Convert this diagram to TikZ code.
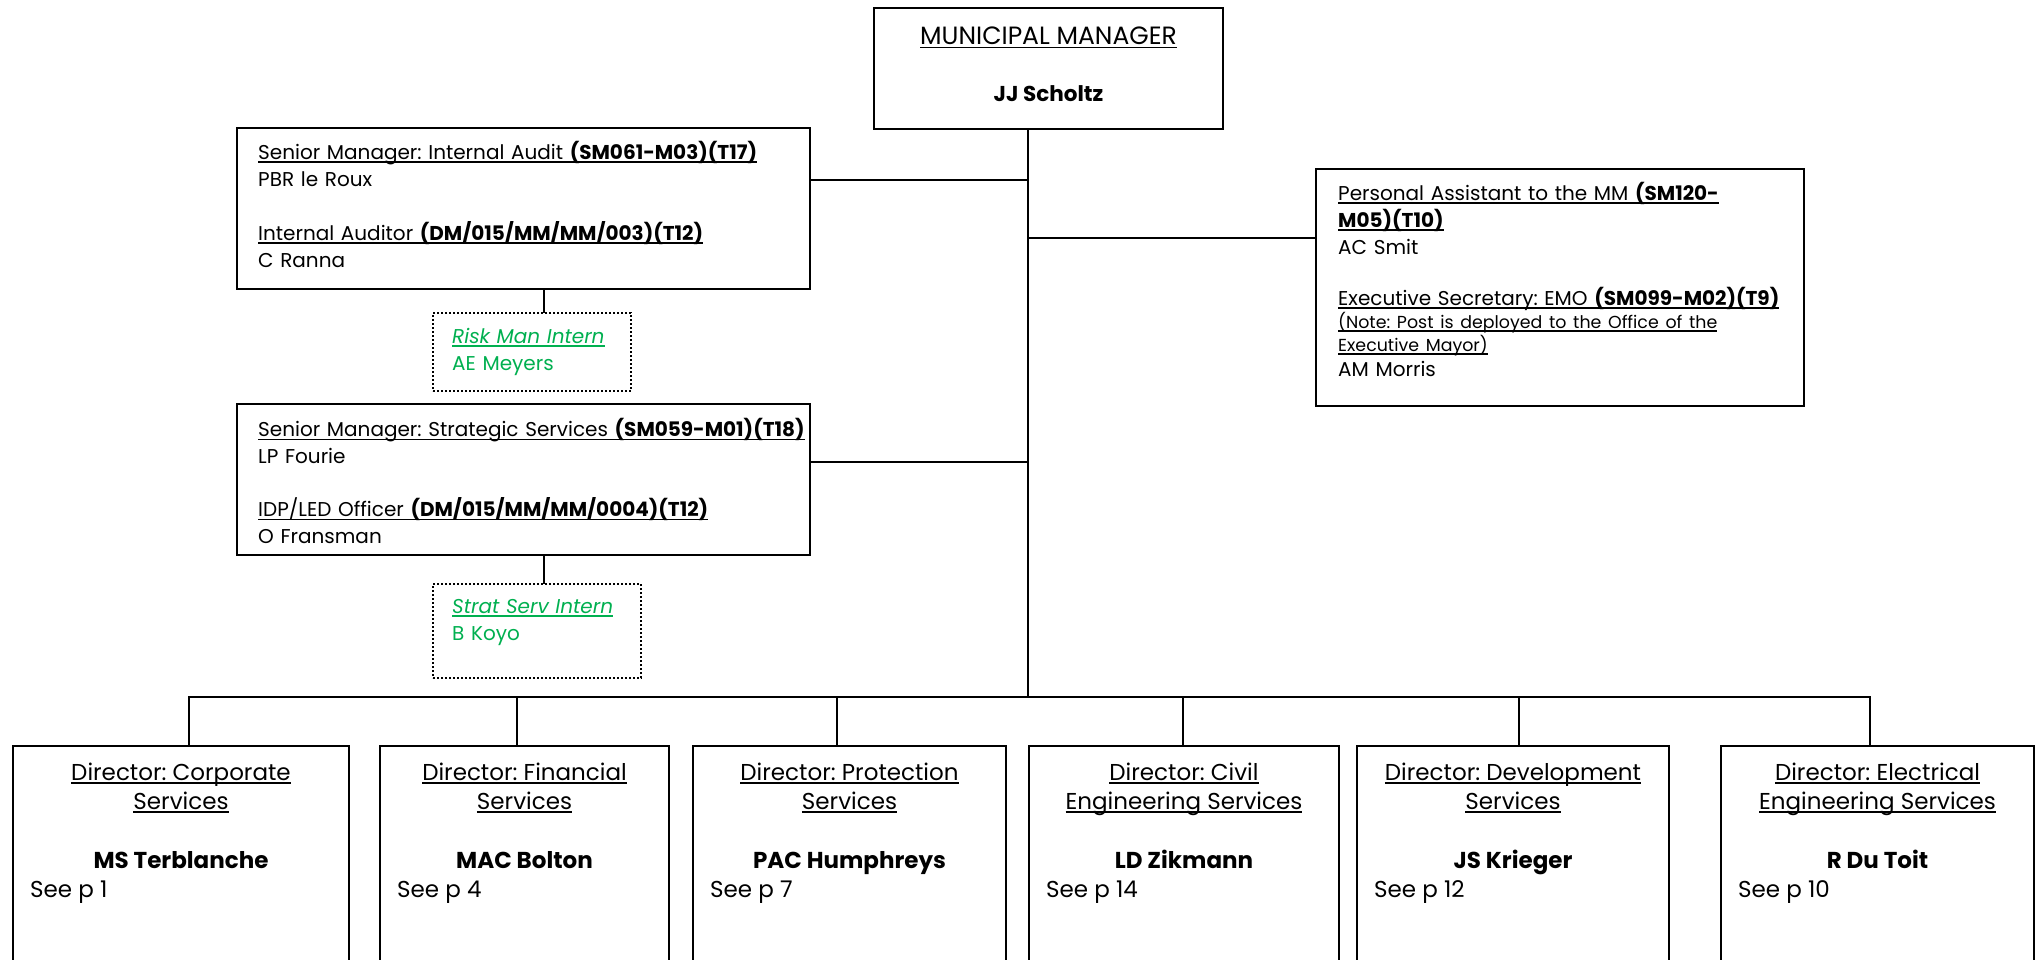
\documentclass[tikz,border=0pt]{standalone}
\usepackage{fontspec}
\setmainfont{Poppins}
\setlength{\parindent}{0pt}
\frenchspacing
\definecolor{interngreen}{HTML}{00B050}
% underline that ignores descenders
\newcommand{\uln}[1]{\leavevmode\setbox0=\hbox{#1}\rlap{\rule[-3.5pt]{\wd0}{1.5pt}}\box0}

\tikzset{
  box/.style={draw, line width=2pt, inner sep=0pt, anchor=north west},
  internbox/.style={draw, line width=2pt, dash pattern=on 2pt off 2pt, inner sep=0pt, anchor=north west},
  conn/.style={line width=2pt, line cap=rect},
  txt/.style={anchor=north west, inner sep=0pt, align=left, text width=#1, font=\fontsize{20}{27}\selectfont},
  txt/.default=600pt,
  dtext/.style={inner sep=0pt, font=\fontsize{23}{29}\selectfont},
}

\begin{document}
\begin{tikzpicture}[x=1pt, y=-1pt]
\fill[white] (0,0) rectangle (2040,960);
\clip (0,0) rectangle (2040,960);
% top
\node[box, minimum width=349pt, minimum height=121pt] (mm) at (873,7) {};
\node[anchor=base, inner sep=0pt, font=\fontsize{25}{30}\selectfont] (mmtitle) at ([yshift=-38pt]mm.north) {\uln{MUNICIPAL MANAGER}};
\node[anchor=base, inner sep=0pt, font=\fontsize{21.5}{26}\selectfont] (mmname) at ([yshift=-95pt]mm.north) {\textbf{JJ Scholtz}};

% left side
\node[box, minimum width=573pt, minimum height=161pt] (ia) at (236,127) {};
\node[txt] (iatext) at ([xshift=22pt, yshift=-13.1pt]ia.north west) {\strut\uln{Senior Manager: Internal Audit \textbf{(SM061-M03)(T17)}}\\
PBR le Roux\\[27pt]
\uln{Internal Auditor \textbf{(DM/015/MM/MM/003)(T12)}}\\
C Ranna};

\node[internbox, minimum width=198pt, minimum height=78pt] (risk) at (432,312) {};
\node[txt=200pt, text=interngreen] (risktext) at ([xshift=20pt, yshift=-12.1pt]risk.north west) {\strut\uln{\textit{Risk Man Intern}}\\
AE Meyers};

\node[box, minimum width=573pt, minimum height=151pt] (ss) at (236,403) {};
\node[txt] (sstext) at ([xshift=22pt, yshift=-14.6pt]ss.north west) {\strut\uln{Senior Manager: Strategic Services \textbf{(SM059-M01)(T18)}}\\
LP Fourie\\[26pt]
\uln{IDP/LED Officer \textbf{(DM/015/MM/MM/0004)(T12)}}\\
O Fransman};

\node[internbox, minimum width=208pt, minimum height=94pt] (strat) at (432,583) {};
\node[txt=200pt, text=interngreen] (strattext) at ([xshift=20pt, yshift=-11.1pt]strat.north west) {\strut\uln{\textit{Strat Serv Intern}}\\
B Koyo};

% right side
\node[box, minimum width=488pt, minimum height=237pt] (pa) at (1315,168) {};
\node[txt] (patext) at ([xshift=23pt, yshift=-13.1pt]pa.north west) {\strut\uln{Personal Assistant to the MM \textbf{(SM120-}}\\
\uln{\textbf{M05)(T10)}}\\
AC Smit\\[24pt]
\uln{Executive Secretary: EMO \textbf{(SM099-M02)(T9)}}\par
{\fontsize{17.4}{23}\selectfont\uln{(Note: Post is deployed to the Office of the}\\
\uln{Executive Mayor)}\par}
\vspace{-2pt}AM Morris};

% connectors
\coordinate (bus) at (1028,697);
\coordinate (jia) at (1028,180);
\coordinate (jpa) at (1028,238);
\coordinate (jss) at (1028,462);
\draw[conn] (mm.south -| bus) -- (bus);
\draw[conn] (jia) -- (jia -| ia.east);
\draw[conn] (jpa) -- (jpa -| pa.west);
\draw[conn] (jss) -- (jss -| ss.east);
\coordinate (iad) at ([xshift=20.5pt]ia.south);
\coordinate (ssd) at ([xshift=20.5pt]ss.south);
\draw[conn] (iad) -- (iad |- risk.north);
\draw[conn] (ssd) -- (ssd |- strat.north);

% directors
\foreach \n/\l/\w/\off/\ta/\tb/\who/\pg in {
  1/12/336/8/{Director: Corporate}/Services/MS Terblanche/1,
  2/379/289/-7.5/{Director: Financial}/Services/MAC Bolton/4,
  3/692/313/-12.5/{Director: Protection}/Services/PAC Humphreys/7,
  4/1028/310/-1/{Director: Civil}/{Engineering Services}/LD Zikmann/14,
  5/1356/312/6/{Director: Development}/Services/JS Krieger/12,
  6/1720/313/-7.5/{Director: Electrical}/{Engineering Services}/R Du Toit/10}
{
  \node[box, minimum width=\w pt, minimum height=260pt] (d\n) at (\l,745) {};
  \node[dtext, anchor=base] (da\n) at ([yshift=-35pt]d\n.north) {\uln{\ta}};
  \node[dtext, anchor=base] (db\n) at ([yshift=-64pt]d\n.north) {\uln{\tb}};
  \node[dtext, anchor=base] (dn\n) at ([yshift=-123pt]d\n.north) {\textbf{\who}};
  \node[dtext, anchor=base west] (dp\n) at ([xshift=18pt, yshift=-152pt]d\n.north west) {See p \pg};
  \coordinate (p\n) at ([xshift=\off pt]d\n.north);
  \draw[conn] (p\n) -- (p\n |- bus);
}
\draw[conn] (p1 |- bus) -- (p6 |- bus);
\end{tikzpicture}
\end{document}
